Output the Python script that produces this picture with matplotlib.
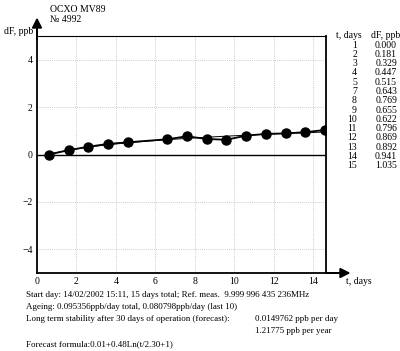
import numpy as np
import matplotlib
matplotlib.use("Agg")
import matplotlib.pyplot as plt

# data
days = [1, 2, 3, 4, 5, 7, 8, 9, 10, 11, 12, 13, 14, 15]
dF = [0.000, 0.181, 0.329, 0.447, 0.515, 0.643, 0.769, 0.655, 0.622, 0.796, 0.869, 0.892, 0.941, 1.035]
t_plot = [0.6, 1.6, 2.6, 3.6, 4.6, 6.6, 7.6, 8.6, 9.6, 10.6, 11.6, 12.6, 13.6, 14.6]
x_ticks = [0, 2, 4, 6, 8, 10, 12, 14]
y_ticks = [-4, -2, 0, 2, 4]

plt.rcParams['font.family'] = ['Liberation Serif', 'DejaVu Serif']
fs = 6.5

W, H = 400, 351
fig = plt.figure(figsize=(W / 100, H / 100), dpi=100)
ax = fig.add_axes([37 / W, 1 - 273 / H, (326 - 37) / W, (273 - 36) / H])
ax.set_xlim(0, 14.65)
ax.set_ylim(-5, 5)

# grid
for xv in x_ticks[1:]:
    ax.axvline(xv, color='#bbbbbb', lw=0.6, ls=(0, (1, 1.5)), zorder=0)
for yv in y_ticks:
    if yv != 0:
        ax.axhline(yv, color='#bbbbbb', lw=0.6, ls=(0, (1, 1.5)), zorder=0)
ax.axhline(0, color='black', lw=1.0, zorder=1)

# forecast curve
tf = np.linspace(0.6, 14.6, 200)
ax.plot(tf, 0.01 + 0.48 * np.log((tf - 0.6) / 2.30 + 1), color='black', lw=0.7, zorder=2)

# measurement
ax.plot(t_plot, dF, color='black', lw=1.3, marker='o', ms=6.5, zorder=3)

for s in ['left', 'bottom', 'right']:
    ax.spines[s].set_linewidth(1.3)
ax.spines['top'].set_linewidth(0.8)

ax.set_xticks(x_ticks)
ax.set_yticks(y_ticks)
ax.tick_params(length=0, labelsize=7, pad=3)

# arrows
fig.patches.append(matplotlib.patches.FancyArrow(37 / W, 1 - 40 / H, 0, 12 / H, width=0.0008,
                   head_width=9 / W, head_length=9 / H, color='black', transform=fig.transFigure, figure=fig))
fig.patches.append(matplotlib.patches.FancyArrow(326 / W, 1 - 273 / H, 14 / W, 0, width=0.0008,
                   head_width=9 / H, head_length=9 / W, color='black', transform=fig.transFigure, figure=fig))

def ft(x, y, s, **kw):
    fig.text(x / W, 1 - y / H, s, fontsize=kw.pop('size', fs), va='center', **kw)

ft(50, 10, "OCXO MV89", size=7)
ft(50, 20, "№ 4992", size=7)
ft(4, 31, "dF, ppb", size=7)
ft(346, 281, "t, days", size=7)

# table
ft(349, 35, "t, days", ha='center', size=7)
ft(386, 35, "dF, ppb", ha='center', size=7)
for i, (d, v) in enumerate(zip(days, dF)):
    y = 45 + i * 9.3
    ft(357, y, str(d), ha='right', size=7)
    ft(397, y, f"{v:.3f}", ha='right', size=7)

ft(26, 295, "Start day: 14/02/2002 15:11, 15 days total; Ref. meas.  9.999 996 435 236MHz")
ft(26, 307, "Ageing: 0.095356ppb/day total, 0.080798ppb/day (last 10)")
ft(26, 319, "Long term stability after 30 days of operation (forecast):")
ft(255, 319, "0.0149762 ppb per day")
ft(255, 331, "1.21775 ppb per year")
ft(26, 344, "Forecast formula:0.01+0.48Ln(t/2.30+1)")

fig.savefig("out.png", dpi=100)
